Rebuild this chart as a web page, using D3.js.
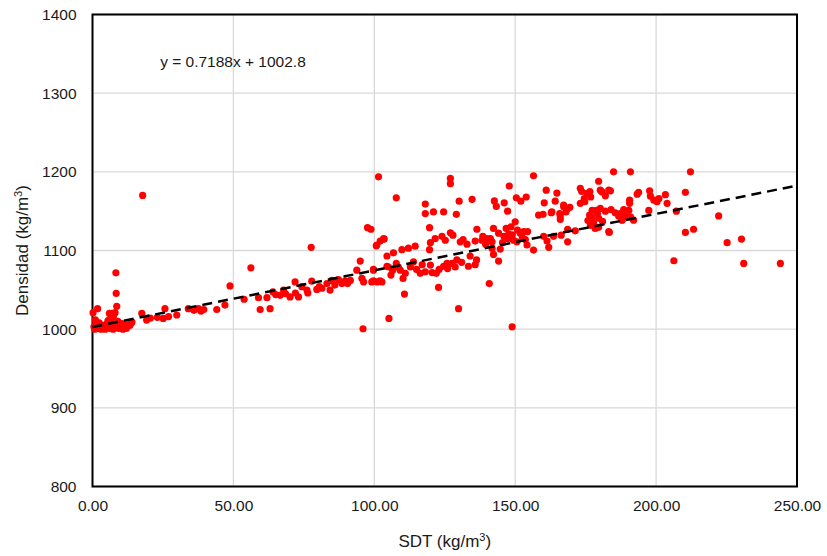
<!DOCTYPE html>
<html>
<head>
<meta charset="utf-8">
<script src="https://cdn.jsdelivr.net/npm/d3@7"></script>
<style>
  body { margin: 0; background: #fff; }
  text { font-family: "Liberation Sans", Arial, sans-serif; fill: #1a1a1a; }
</style>
</head>
<body>
<div id="chart"></div>
<script>
// SDT (kg/m3) vs Densidad (kg/m3)
const muestras = [
  // 0 - 15
  [0.2,1021],[0.5,1003],[0.8,1000],[1,1012],[1.2,1007],[1.5,1001],[1.8,1026],[2,1004],[2.4,1008],[2.8,1002],
  [3,1000],[3.3,1005],[3.8,1001],[4,1003],[4.5,1000],[4.8,1006],[5,1002],[5.5,1011],[5.8,1004],[6,1020],
  [6.2,1001],[6.5,1013],[6.8,1003],[7,1020],[7.3,1000],[7.4,1016],[7.8,1005],[8,1021],[8.2,1002],[8.3,1071.6],
  [8.4,1045.5],[8.6,1029],[8.8,1008],[9,1010],[9.3,1001],[9.6,1004],[10,1002],[10.4,1007],[10.8,1000],[11,1006],
  [11.5,1003],[12,1001],[12.5,1004],[13,1006],[13.3,1005],[13.8,1008],[14,1009],[17.8,1170],
  // 15 - 55
  [17.5,1020],[19.2,1011.5],[20.5,1014],[23,1015],[25.1,1013.7],[25.7,1026],[27,1016],[29.9,1018],[34,1026],[36,1024],
  [37.6,1026],[38.5,1023],[39.5,1025],[44.1,1025],[47,1030.6],[48.8,1055],[53.8,1038],
  // 55 - 100
  [56.2,1078],[58.9,1040],[59.5,1025],[61.9,1040],[63,1026],[64,1047.5],[66.6,1043],[67.8,1049.7],[70.1,1041],[71.9,1060],
  [73.1,1041],[74.3,1054],[76.1,1049.7],[76.4,1046],[77.6,1104],[77.8,1061],[79.6,1050.5],[81.4,1052],[83.2,1058],[84.3,1049.7],
  [84.9,1062],[87.3,1063],[88.5,1058],[89.7,1061.5],[90.5,1058],[93.8,1075],[95,1086.5],[95.6,1064.5],[96.2,1060],[96,1000.5],
  [97.6,1129],[98.8,1127],[99.7,1075],[99.1,1060],[101,1060],[102.7,1060],[100.9,1107],[102.1,1112],[103.3,1115],[104.5,1093],
  [104.5,1080],[105.2,1013.7],[65,1044],[68.5,1045],[72,1046],[80.5,1054],[86,1056],[91.5,1062],
  // 100 - 145
  [101.5,1193.6],[107.8,1167],[118.1,1159],[118.1,1147],[121,1149],[124.6,1149],[127,1191.6],[127,1185],[130.1,1162.7],[134.7,1165],
  [129.1,1146],[142.6,1163],[143.3,1156],[100.7,1106],[103.5,1114.5],[106.8,1097],[109.8,1101],[112.1,1103],[114.5,1105.5],[119.6,1129],
  [119.9,1110],[119.6,1101],[121.6,1115],[124,1118],[125.2,1113],[127,1122.5],[127.9,1119.5],[130.5,1111],[132.9,1108],[136.4,1127],
  [135.8,1112],[138.2,1113],[140,1115],[141.8,1111],[142.3,1128],[144.1,1122],[99.7,1076],[99.7,1061.5],[102,1061.5],[105,1079],
  [105.9,1068.7],[107.8,1083.6],[109.2,1075],[110.2,1064.5],[111,1071],[112.8,1079],[113.9,1085.6],[116.3,1071],[118.1,1073],[119.9,1081.5],
  [120.5,1072],[122,1071],[124.6,1080],[125.8,1083.6],[126,1077],[127.6,1083.6],[128.7,1079],[129.3,1088],[133.4,1080],[135.8,1082],
  [136.3,1088],[142.3,1095],[122.8,1053],[110.7,1044.6],[140.8,1058],[129.9,1026],
  [106.5,1075],[108.5,1079],[115,1076],[117,1082],[123,1076],[131,1085],[134,1093],[138.5,1118],[139.5,1108],[131.5,1114],
  // 145 - 185
  [156.5,1195],[147.9,1182],[146.1,1160.6],[147.3,1150],[150.4,1167],[152,1162.7],[153.9,1168],[161,1176.7],[164.8,1173],[160.3,1160.6],
  [164.2,1162.7],[158.3,1145],[159.9,1146],[162.8,1148],[165.8,1147],[166,1139.5],[167.2,1157.7],[168.6,1153.5],[169.4,1155],[168,1149],
  [173.1,1179],[173.6,1175],[175.5,1172.5],[176.5,1175],[174.5,1166],[173.1,1160],[174.7,1162],[176.8,1168],[179.6,1188],[180.2,1176.7],
  [182,1169.5],[183.2,1176.7],[182,1150],[184,1152],[176.4,1145],[177.2,1142],[177.8,1135],[178.8,1151],[179.2,1147],[176.7,1132],
  [178.4,1128],[179.6,1129.5],[183.2,1124],[146.8,1128],[148.5,1130],[150,1136.5],[147.7,1121],[149,1120],[147.3,1115],[149.4,1113],
  [151.8,1122],[153,1124],[154.4,1124],[153.6,1114],[150.6,1111],[154.2,1107],[156.5,1100.5],[141.2,1115],[141.8,1102.6],[144.7,1101.8],
  [144.1,1086.5],[148.9,1003],[160.1,1118],[161.3,1112],[161.9,1104],[163.6,1118],[166.3,1119.5],[168.6,1111],[168.6,1127],[171.3,1125],
  [163,1149],[166,1143.7],[167.2,1155.5],[177.3,1151],[179.6,1141],[176.6,1141],[183.4,1123],
  [146,1118],[150.8,1126],[152.6,1116],[145.5,1110],[175.8,1138],[181,1137],[185.5,1148],
  // 185 - 250
  [184.9,1200],[190.9,1200],[212.2,1200],[210.4,1174],[180.8,1174.5],[183.8,1175.8],[180.2,1153.5],[186.7,1143.7],[188.5,1152],[189,1144],
  [190.6,1164],[190.6,1160],[190.3,1151],[190.9,1142.8],[187.9,1138.6],[192,1138.6],[193.3,1171.6],[193.8,1174],[197.4,1151],[197.7,1175.8],
  [198,1169],[199.2,1164],[200.3,1162],[201,1166],[203.3,1171],[203.9,1160],[207.2,1150],[210.4,1123],[213.3,1127],[222.2,1144],
  [225.2,1110],[230.3,1114.5],[206.3,1087],[231.1,1083.6],[244.1,1083.6],[187.3,1147],[188,1139],[189.8,1143]
];

const xTicks = [0, 50, 100, 150, 200, 250];
const yTicks = [800, 900, 1000, 1100, 1200, 1300, 1400];
const pendiente = 0.7188;
const intercepto = 1002.8;
const ecuacion = "y = 0.7188x + 1002.8";

const W = 827, H = 556;
const margin = {top: 14.5, right: 30, bottom: 69.5, left: 92.5};
const width = W - margin.left - margin.right;
const height = H - margin.top - margin.bottom;

const svg = d3.select("#chart").append("svg")
    .attr("width", W)
    .attr("height", H);

const g = svg.append("g")
    .attr("transform", `translate(${margin.left},${margin.top})`);

const x = d3.scaleLinear().domain([0, 250]).range([0, width]);
const y = d3.scaleLinear().domain([800, 1400]).range([height, 0]);

// grid
g.append("g")
    .selectAll("line")
    .data(xTicks)
    .enter().append("line")
    .attr("x1", d => x(d)).attr("x2", d => x(d))
    .attr("y1", 0).attr("y2", height)
    .attr("stroke", "#d9d9d9").attr("stroke-width", 1.3);

g.append("g")
    .selectAll("line")
    .data(yTicks)
    .enter().append("line")
    .attr("x1", 0).attr("x2", width)
    .attr("y1", d => y(d)).attr("y2", d => y(d))
    .attr("stroke", "#d9d9d9").attr("stroke-width", 1.3);

// axes (labels only)
const xAxis = g.append("g")
    .attr("transform", `translate(0,${height})`)
    .call(d3.axisBottom(x).tickValues(xTicks).tickFormat(d3.format(".2f")).tickSize(0).tickPadding(13));
const yAxis = g.append("g")
    .call(d3.axisLeft(y).tickValues(yTicks).tickFormat(d3.format("d")).tickSize(0).tickPadding(16));
[xAxis, yAxis].forEach(a => {
    a.select(".domain").remove();
    a.selectAll("text").style("font-size", "15.5px").style("font-family", "'Liberation Sans', Arial, sans-serif").attr("fill", "#1a1a1a");
});

// border
g.append("rect")
    .attr("width", width).attr("height", height)
    .attr("fill", "none").attr("stroke", "#000").attr("stroke-width", 2);

// puntos
g.append("g")
    .selectAll("circle")
    .data(muestras)
    .enter().append("circle")
    .attr("cx", d => x(d[0]))
    .attr("cy", d => y(d[1]))
    .attr("r", 3.6)
    .attr("fill", "#ff0000");

// tendencia
const linea = d3.line().x(d => x(d)).y(d => y(pendiente * d + intercepto));
g.append("path")
    .datum([0, 250])
    .attr("d", linea)
    .attr("fill", "none")
    .attr("stroke", "#000")
    .attr("stroke-width", 2.5)
    .attr("stroke-dasharray", "10,6");

g.append("text")
    .attr("x", x(24)).attr("y", y(1340) + 5)
    .style("font-size", "15.5px")
    .text(ecuacion);

// títulos
const xt = svg.append("text")
    .attr("x", margin.left + width / 2).attr("y", 547)
    .attr("text-anchor", "middle")
    .style("font-size", "17px");
xt.append("tspan").text("SDT (kg/m");
xt.append("tspan").attr("dy", -6).style("font-size", "11px").text("3");
xt.append("tspan").attr("dy", 6).text(")");

const yt = svg.append("text")
    .attr("transform", `translate(28,${margin.top + height / 2}) rotate(-90)`)
    .attr("text-anchor", "middle")
    .style("font-size", "17px");
yt.append("tspan").text("Densidad (kg/m");
yt.append("tspan").attr("dy", -6).style("font-size", "11px").text("3");
yt.append("tspan").attr("dy", 6).text(")");
</script>
</body>
</html>
